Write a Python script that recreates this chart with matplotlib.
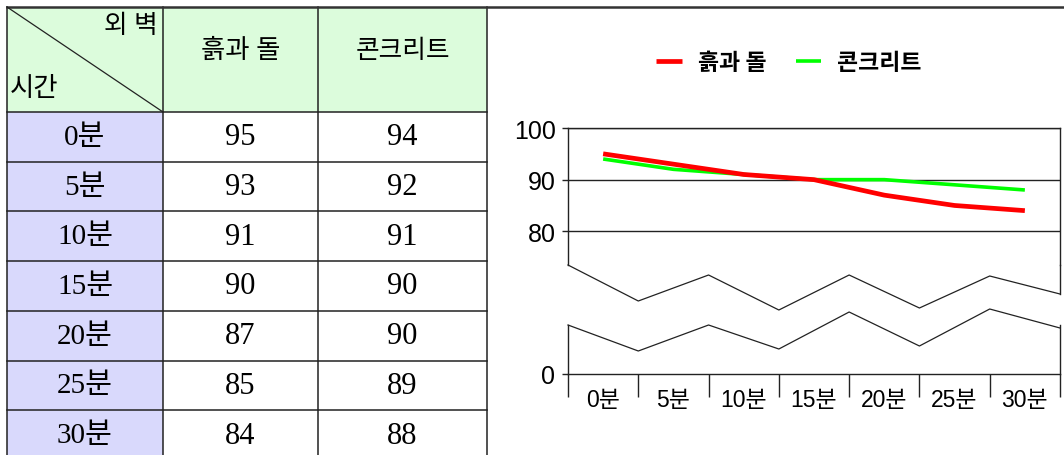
import matplotlib
matplotlib.use('Agg')
import matplotlib.pyplot as plt
from matplotlib.lines import Line2D
from matplotlib.patches import Rectangle

# datos de la tabla / gráfica
tiempos = ['0분', '5분', '10분', '15분', '20분', '25분', '30분']
piedra = [95, 93, 91, 90, 87, 85, 84]       # 흙과 돌
concreto = [94, 92, 91, 90, 90, 89, 88]     # 콘크리트
series = ['흙과 돌', '콘크리트']
esquina = ('외 벽', '시간')
yticks_sup = [100, 90, 80]

W, H = 1064, 456
fig = plt.figure(figsize=(W / 100, H / 100), dpi=100)

def fx(x):
    return x / W

def fy(y):
    return 1 - y / H

serif_kr = ['Liberation Serif', 'Noto Sans CJK KR']
sans_kr = ['Liberation Sans Narrow', 'Liberation Sans', 'Noto Sans CJK KR']
linea = '#222222'

# ---------------- tabla (coordenadas en pixeles) ----------------
tab = fig.add_axes([0, 0, 1, 1])
tab.set_xlim(0, W)
tab.set_ylim(H, 0)
tab.axis('off')

cols = [7, 163, 318, 487]
top, head_bot, row_h = 8, 113, 49.7
filas = [head_bot + k * row_h for k in range(len(tiempos) + 1)]

tab.add_patch(Rectangle((cols[0], top), cols[3] - cols[0], head_bot - top,
                        facecolor='#dcfcdc', edgecolor='none'))
tab.add_patch(Rectangle((cols[0], head_bot), cols[1] - cols[0], H - head_bot,
                        facecolor='#d9d9fc', edgecolor='none'))

for x in cols:
    tab.plot([x, x], [top, H], color=linea, lw=1.1)
for y in filas[:-1]:
    tab.plot([cols[0], cols[3]], [y, y], color=linea, lw=1.1)
tab.plot([cols[0], W], [top, top], color='#333333', lw=1.8)
tab.plot([cols[0], cols[1]], [top, head_bot], color=linea, lw=0.9)

tab.text(158, 26, esquina[0], ha='right', va='center', fontsize=18.5,
         family=serif_kr)
tab.text(10, 89, esquina[1], ha='left', va='center', fontsize=19,
         family=serif_kr)
tab.text((cols[1] + cols[2]) / 2, 51, series[0], ha='center', va='center',
         fontsize=19, family=serif_kr)
tab.text((cols[2] + cols[3]) / 2, 51, series[1], ha='center', va='center',
         fontsize=18.5, family=serif_kr)

for i, t in enumerate(tiempos):
    yc = filas[i] + row_h / 2
    tab.text((cols[0] + cols[1]) / 2, yc, t, ha='center', va='center',
             fontsize=21, family=serif_kr)
    tab.text((cols[1] + cols[2]) / 2, yc, str(piedra[i]), ha='center',
             va='center', fontsize=22, family=serif_kr)
    tab.text((cols[2] + cols[3]) / 2, yc, str(concreto[i]), ha='center',
             va='center', fontsize=22, family=serif_kr)

# ---------------- gráfica con eje cortado ----------------
xl, xr = 568, 1060
y100, y_cut_sup = 129, 266
y0, y_cut_inf = 375, 326
px_por_u = (232.3 - 129) / 20.0

sup = fig.add_axes([fx(xl), fy(y_cut_sup), fx(xr - xl), (y_cut_sup - y100) / H])
inf = fig.add_axes([fx(xl), fy(y0), fx(xr - xl), (y0 - y_cut_inf) / H])
for ax in (sup, inf):
    ax.set_facecolor('none')
    ax.set_xlim(-0.5, len(tiempos) - 0.5)
    for s in ax.spines.values():
        s.set_color(linea)
        s.set_linewidth(1.0)

x = range(len(tiempos))
l1, = sup.plot(x, piedra, color='#ff0000', lw=3.4, solid_capstyle='butt',
               zorder=3, label=series[0])
l2, = sup.plot(x, concreto, color='#00ff00', lw=2.6, solid_capstyle='butt',
               zorder=2, label=series[1])

sup.set_ylim(100 - (y_cut_sup - y100) / px_por_u, 100)
sup.spines['bottom'].set_visible(False)
sup.set_xticks([])
sup.set_yticks(yticks_sup)
sup.set_yticklabels([str(v) for v in yticks_sup], fontsize=18,
                    family=sans_kr)
sup.tick_params(axis='y', length=4, width=1.0, color=linea, pad=5)
sup.yaxis.grid(True, color=linea, lw=1.0)
sup.set_axisbelow(True)

inf.set_ylim(0, (y0 - y_cut_inf) / px_por_u)
inf.spines['top'].set_visible(False)
inf.set_yticks([0])
inf.set_yticklabels(['0'], fontsize=18, family=sans_kr)
inf.tick_params(axis='y', length=4, width=1.0, color=linea, pad=5)
inf.set_xticks(list(x))
inf.set_xticklabels(tiempos, fontsize=16.5, family=sans_kr)
inf.set_xticks([k - 0.5 for k in range(len(tiempos) + 1)], minor=True)
inf.tick_params(axis='x', which='major', length=0, pad=10)
inf.tick_params(axis='x', which='minor', length=16.5, width=1.0,
                color=linea, direction='out')

# marcas del corte (zigzag) en fracciones del ancho del eje
def zigzag(ys):
    n = len(ys) - 1
    xs = [fx(xl + (xr - xl) * k / n) for k in range(n + 1)]
    fig.add_artist(Line2D(xs, [fy(v) for v in ys], color=linea, lw=0.9))

zigzag([266, 302, 276, 311, 276, 309, 277, 295])
zigzag([326, 352, 326, 350, 313, 347, 310, 329])
fig.add_artist(Line2D([fx(xr), fx(xr)], [fy(y_cut_sup), fy(295)],
                      color=linea, lw=1.0))

# leyenda
fig.legend(handles=[l1, l2], labels=series, loc='center',
           bbox_to_anchor=(fx(789), fy(64)), ncol=2, frameon=False,
           handlelength=1.1, handletextpad=0.7, columnspacing=1.3,
           prop={'family': ['Noto Sans CJK KR'], 'size': 16.5, 'weight': 'bold'})

fig.savefig('out.png', dpi=100)
